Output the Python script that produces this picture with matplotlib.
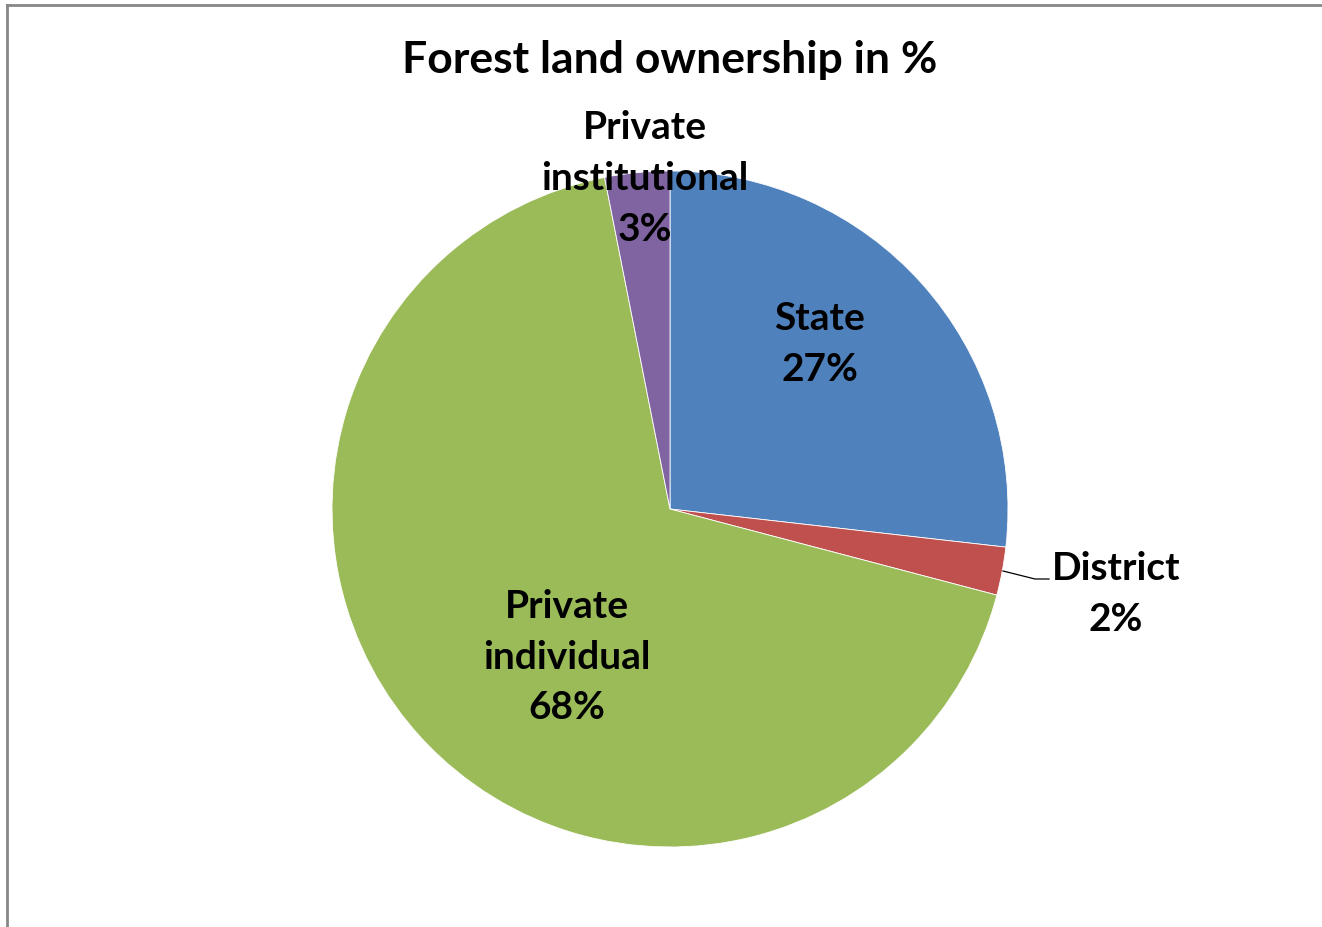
import matplotlib.pyplot as plt
from matplotlib.lines import Line2D

# data
labels = ['State', 'District', 'Private\nindividual', 'Private\ninstitutional']
shares = [26.8, 2.3, 67.8, 3.1]
pct_text = ['27%', '2%', '68%', '3%']
colors = ['#4F81BD', '#C0504D', '#9BBB59', '#8064A2']

# label anchors, in pie radius units
label_pos = [(0.444, 0.491), (1.32, -0.249), (-0.305, -0.435), (-0.074, 0.982)]

plt.rcParams['font.family'] = ['Lato', 'DejaVu Sans']

W, H = 1322, 928
cx, cy, R = 670, 510, 338
fig = plt.figure(figsize=(W / 100, H / 100), dpi=100)
ax = fig.add_axes([0, 0, 1, 1])

wedges, _ = ax.pie(shares, colors=colors, startangle=90, counterclock=False,
                   radius=1, center=(0, 0),
                   wedgeprops=dict(edgecolor='white', linewidth=0.6))

ax.set_xlim(-cx / R, (W - cx) / R)
ax.set_ylim(-(H - cy) / R, cy / R)
ax.set_aspect('auto')
ax.axis('off')

for (x, y), lab, pct in zip(label_pos, labels, pct_text):
    ax.text(x, y, lab + '\n' + pct, ha='center', va='center',
            fontsize=28, fontweight='bold', linespacing=1.55, color='black')

# leader line for District
ax.plot([(1003 - cx) / R, (1035 - cx) / R, (1049 - cx) / R],
        [(cy - 572) / R, (cy - 580) / R, (cy - 580) / R],
        color='black', lw=0.9)

ax.text(0, (cy - 60) / R, 'Forest land ownership in %', ha='center', va='center',
        fontsize=32, fontweight='bold')

# chart area frame (cut off at right and bottom)
fig.add_artist(Line2D([7 / W, 7 / W], [0, 1 - 6 / H], transform=fig.transFigure,
                      color='#878787', lw=2))
fig.add_artist(Line2D([7 / W, 1], [1 - 6 / H, 1 - 6 / H], transform=fig.transFigure,
                      color='#878787', lw=2))

fig.savefig('out.png', dpi=100, facecolor='white')
